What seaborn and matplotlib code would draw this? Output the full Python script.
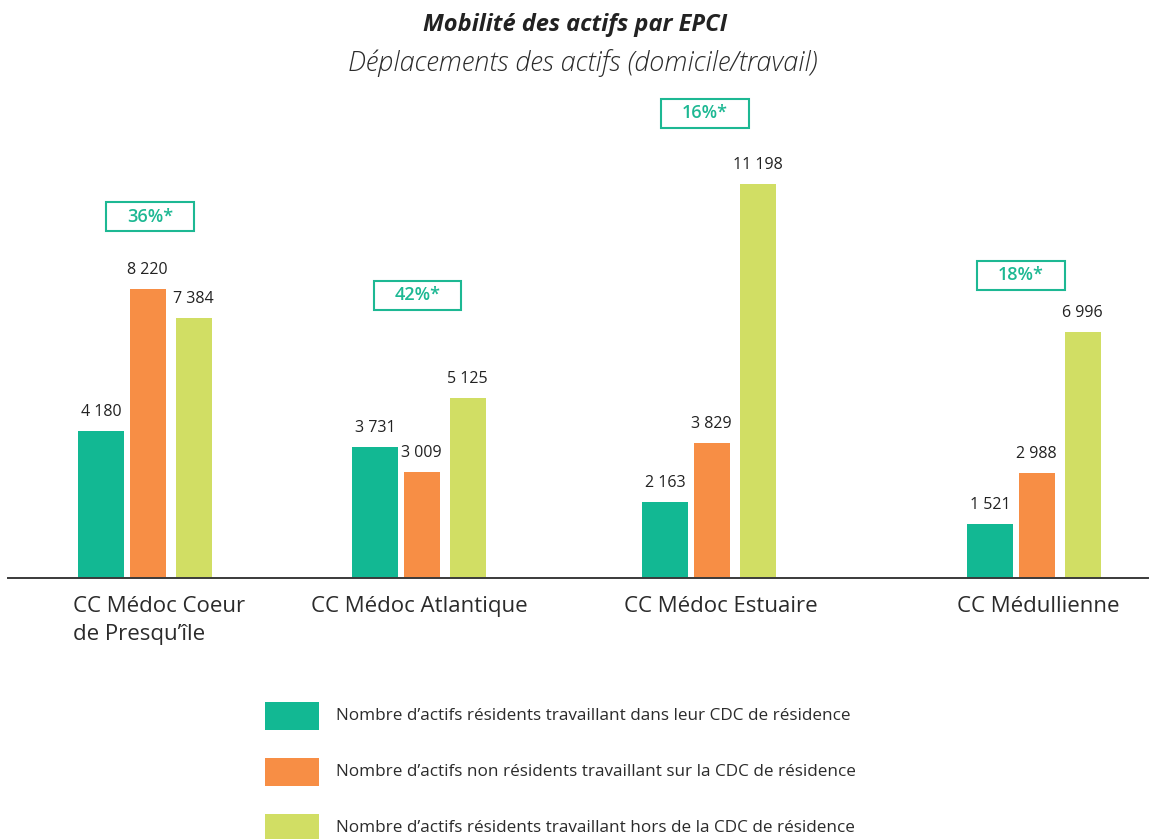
import matplotlib
matplotlib.use("Agg")
import matplotlib.pyplot as plt
from matplotlib.patches import Rectangle
import pandas as pd
import seaborn as sns

# --- data -------------------------------------------------------------
categories = ["CC Médoc Coeur\nde Presqu’île", "CC Médoc Atlantique",
              "CC Médoc Estuaire", "CC Médullienne"]
series = [
    "Nombre d’actifs résidents travaillant dans leur CDC de résidence",
    "Nombre d’actifs non résidents travaillant sur la CDC de résidence",
    "Nombre d’actifs résidents travaillant hors de la CDC de résidence",
]
internes = [4180, 3731, 2163, 1521]
entrants = [8220, 3009, 3829, 2988]
sortants = [7384, 5125, 11198, 6996]
taux = ["36%*", "42%*", "16%*", "18%*"]

colors = ["#12B893", "#F78E45", "#D1DE64"]
accent = "#1DB893"
text_col = "#2b2b2b"

# --- layout (pixel grid of a 1150 x 839 canvas) ------------------------
W, H = 1150, 839
px_per_unit = 394 / 11198
base_y = 578
axis_x0, axis_x1 = 8, 1148
group_left = [78, 352, 642, 967]
bar_offset = [0, 51.5, 97.5]
bar_width = [46, 36, 36]
label_x = [73, 419, 721, 1038]
box_center = [(150, 216.5), (417.5, 295.5), (704.5, 113), (1020.5, 275)]
box_w, box_h = 88, 29

sns.set_theme(style="white")
plt.rcParams["font.family"] = ["Open Sans", "DejaVu Sans"]

df = pd.DataFrame({
    "epci": categories * 3,
    "serie": [s for s in series for _ in categories],
    "valeur": internes + entrants + sortants,
})

fig = plt.figure(figsize=(W / 100, H / 100), dpi=100)
ax_h = 488
ax = fig.add_axes([axis_x0 / W, (H - base_y) / H, (axis_x1 - axis_x0) / W, ax_h / H])

sns.barplot(data=df, x="epci", y="valeur", hue="serie", order=categories,
            hue_order=series, palette=colors, saturation=1, ax=ax,
            legend=False, errorbar=None)

# place the bars on the pixel grid
for j, cont in enumerate(ax.containers):
    for i, bar in enumerate(cont):
        bar.set_x(group_left[i] + bar_offset[j])
        bar.set_width(bar_width[j])
        bar.set_linewidth(0)

ax.set_xlim(axis_x0, axis_x1)
ax.set_ylim(0, ax_h / px_per_unit)
ax.set_xticks([])
ax.set_yticks([])
ax.set_xlabel("")
ax.set_ylabel("")
for side in ["top", "right", "left"]:
    ax.spines[side].set_visible(False)
ax.spines["bottom"].set_color("#3a3a3a")
ax.spines["bottom"].set_linewidth(1.4)

def fmt(v):
    return f"{v:,}".replace(",", " ")

# value labels
for j, cont in enumerate(ax.containers):
    for i, bar in enumerate(cont):
        v = bar.get_height()
        ax.annotate(fmt(int(round(v))), (bar.get_x() + bar.get_width() / 2, v),
                    xytext=(0, 8), textcoords="offset points",
                    ha="center", va="bottom", fontsize=11.5,
                    color="#222222")

# rate boxes
for (cx, cy), t in zip(box_center, taux):
    fx, fy = cx / W, 1 - cy / H
    fig.patches.append(Rectangle((fx - box_w / 2 / W, fy - box_h / 2 / H),
                                 box_w / W, box_h / H, transform=fig.transFigure,
                                 fill=False, edgecolor=accent, linewidth=1.5))
    fig.text(fx, fy, t, ha="center", va="center", color=accent,
             fontsize=13, fontweight="semibold")

# category labels
for i, (c, x) in enumerate(zip(categories, label_x)):
    fig.text(x / W, 1 - 596 / H, c, ha="left" if i == 0 else "center",
             va="top", fontsize=16, color=text_col, linespacing=1.42)

# title and subtitle
fig.text(575 / W, 1 - 25 / H, "Mobilité des actifs par EPCI", ha="center",
         va="center", fontsize=17, fontweight="bold", fontstyle="italic",
         color="#222222")
fig.text(583 / W, 1 - 63 / H, "Déplacements des actifs (domicile/travail)",
         ha="center", va="center", fontsize=19.5, fontstyle="italic",
         fontweight="light", color=text_col)

# legend
for k, (s, col) in enumerate(zip(series, colors)):
    cy = 716 + 56 * k
    fig.patches.append(Rectangle((265 / W, 1 - (cy + 14) / H), 54 / W, 28 / H,
                                 transform=fig.transFigure, facecolor=col,
                                 edgecolor="none"))
    fig.text(336 / W, 1 - cy / H, s, ha="left", va="center", fontsize=12.3,
             color=text_col)

fig.savefig("out.png", dpi=100)
